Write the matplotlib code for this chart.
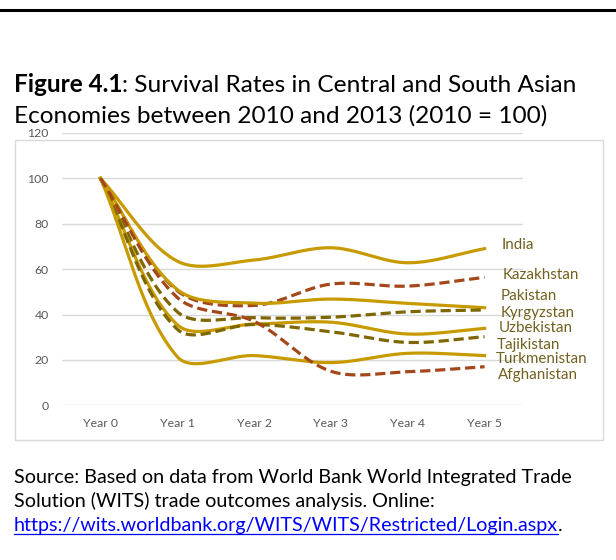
import numpy as np
import matplotlib
matplotlib.use("Agg")
import matplotlib.pyplot as plt
from matplotlib.patches import Rectangle
from matplotlib.lines import Line2D

# ---- data (index, 2010 = 100) ----
years = ["Year 0", "Year 1", "Year 2", "Year 3", "Year 4", "Year 5"]
india        = [100, 63.5, 64.0, 69.4, 62.8, 69.0]
kazakhstan   = [100, 50.5, 44.0, 53.4, 52.5, 56.4]
pakistan     = [100, 51.0, 45.0, 46.8, 44.9, 43.0]
kyrgyzstan   = [100, 41.2, 38.6, 38.8, 41.2, 42.0]
uzbekistan   = [100, 35.5, 35.8, 36.6, 31.4, 33.9]
tajikistan   = [100, 33.5, 35.6, 32.4, 27.7, 30.2]
turkmenistan = [100, 21.4, 21.9, 18.8, 22.9, 21.9]
afghanistan  = [100, 47.5, 37.0, 15.0, 14.8, 17.0]

countries = ["India", "Kazakhstan", "Pakistan", "Kyrgyzstan",
             "Uzbekistan", "Tajikistan", "Turkmenistan", "Afghanistan"]
series = [india, kazakhstan, pakistan, kyrgyzstan,
          uzbekistan, tajikistan, turkmenistan, afghanistan]

# ---- styling ----
GOLD = "#C79B00"
RUST = "#A4471A"
OLIVE = "#7E6600"
LABEL = "#72601F"
styles = {
    "India": (GOLD, "-"), "Kazakhstan": (RUST, "--"), "Pakistan": (GOLD, "-"),
    "Kyrgyzstan": (OLIVE, "--"), "Uzbekistan": (GOLD, "-"),
    "Tajikistan": (OLIVE, "--"), "Turkmenistan": (GOLD, "-"),
    "Afghanistan": (RUST, "--"),
}
# label anchor heights (data units) and left offsets (pixels past Year 5)
label_y = [70.6, 57.4, 48.1, 40.7, 34.1, 26.6, 20.4, 13.3]
label_dx = [17, 18, 16, 16, 14, 12, 11, 13]

FONT = ["Lato", "DejaVu Sans"]
plt.rcParams["font.family"] = FONT

W, H, DPI = 616, 560, 100
fig = plt.figure(figsize=(W / DPI, H / DPI), dpi=DPI)

# axes box in pixels
ax_l, ax_r, ax_b, ax_t = 62, 523, 405.3, 132.9
ax = fig.add_axes([ax_l / W, (H - ax_b) / H, (ax_r - ax_l) / W, (ax_b - ax_t) / H])
ax.set_xlim(-0.5, 5.5)
ax.set_ylim(0, 120)

px_x = (ax_r - ax_l) / 6.0
px_y = (ax_b - ax_t) / 120.0


def smooth(xs, ys, n=60):
    """Smoothed Bezier curve with length-weighted tangents (screen space)."""
    P = np.column_stack([np.asarray(xs, float) * px_x, np.asarray(ys, float) * px_y])
    m = len(P)
    out = []
    for i in range(m - 1):
        p0, p1 = P[i], P[i + 1]
        prev = P[i - 1] if i > 0 else P[i]
        nxt = P[i + 2] if i + 2 < m else P[i + 1]
        # outgoing control at p0
        d1 = np.linalg.norm(p0 - prev)
        d2 = np.linalg.norm(p1 - p0)
        c1 = p0 + (p1 - prev) * (d2 / (d1 + d2)) / 3.0
        # incoming control at p1
        e1 = np.linalg.norm(p1 - p0)
        e2 = np.linalg.norm(nxt - p1)
        c2 = p1 - (nxt - p0) * (e1 / (e1 + e2)) / 3.0
        t = np.linspace(0, 1, n)[:, None]
        seg = ((1 - t) ** 3) * p0 + 3 * ((1 - t) ** 2) * t * c1 \
            + 3 * (1 - t) * t ** 2 * c2 + t ** 3 * p1
        out.append(seg if i == 0 else seg[1:])
    curve = np.vstack(out)
    return curve[:, 0] / px_x, curve[:, 1] / px_y


xs = np.arange(len(years))
for name, vals in zip(countries, series):
    color, ls = styles[name]
    cx, cy = smooth(xs, vals)
    if ls == "--":
        ax.plot(cx, cy, color=color, lw=2.3, dashes=(3.2, 1.5),
                dash_capstyle="butt", zorder=3)
    else:
        ax.plot(cx, cy, color=color, lw=2.3, zorder=3)

# series labels at the right end
for name, y, dx in zip(countries, label_y, label_dx):
    ax.annotate(name, xy=(5, y), xytext=(dx * 72 / DPI, 0), textcoords="offset points",
                ha="left", va="center", fontsize=10.9, color=LABEL,
                annotation_clip=False)

# grid and ticks
ax.set_yticks([0, 20, 40, 60, 80, 100, 120])
ax.set_xticks(xs)
ax.set_xticklabels(years)
ax.yaxis.grid(True, color="#D9D9D9", lw=1.0)
ax.set_axisbelow(True)
for s in ax.spines.values():
    s.set_visible(False)
ax.tick_params(axis="both", length=0, labelsize=8.8, labelcolor="#595959")
ax.tick_params(axis="y", pad=9.5)
ax.tick_params(axis="x", pad=8.8)

# chart frame
fig.patches.append(Rectangle((15 / W, (H - 440) / H), 588 / W, 300 / H,
                             transform=fig.transFigure, fill=False,
                             edgecolor="#D9D9D9", lw=1.0))

# top rule
fig.add_artist(Line2D([0, 1], [(H - 9.5) / H] * 2, transform=fig.transFigure,
                      color="black", lw=2.2))

# title (bold lead-in followed by regular text)
fig.canvas.draw()
renderer = fig.canvas.get_renderer()
TSIZE = 17.6
x0 = 14 / W
t1 = fig.text(x0, (H - 92) / H, "Figure 4.1", fontsize=TSIZE, fontweight="bold",
              color="black", ha="left", va="baseline")
bb = t1.get_window_extent(renderer)
fig.text(bb.x1 / W, (H - 92) / H, ": Survival Rates in Central and South Asian",
         fontsize=TSIZE, color="black", ha="left", va="baseline")
fig.text(x0, (H - 123) / H, "Economies between 2010 and 2013 (2010 = 100)",
         fontsize=TSIZE, color="black", ha="left", va="baseline")

# source note
SSIZE = 14.2
fig.text(x0, (H - 483) / H, "Source: Based on data from World Bank World Integrated Trade",
         fontsize=SSIZE, color="black", ha="left", va="baseline")
fig.text(x0, (H - 507) / H, "Solution (WITS) trade outcomes analysis. Online:",
         fontsize=SSIZE, color="black", ha="left", va="baseline")
link = fig.text(x0, (H - 531) / H, "https://wits.worldbank.org/WITS/WITS/Restricted/Login.aspx",
                fontsize=SSIZE, color="#0000FF", ha="left", va="baseline")
lb = link.get_window_extent(renderer)
fig.text(lb.x1 / W, (H - 531) / H, ".", fontsize=SSIZE, color="black",
         ha="left", va="baseline")
fig.add_artist(Line2D([lb.x0 / W, lb.x1 / W], [(H - 533.5) / H] * 2,
                      transform=fig.transFigure, color="#0000FF", lw=0.9))

fig.savefig("out.png", dpi=DPI)
